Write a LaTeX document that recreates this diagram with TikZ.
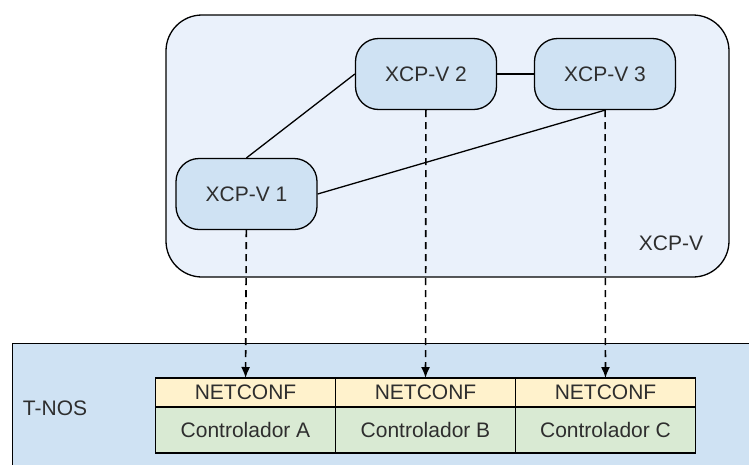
\documentclass[tikz,border=0pt]{standalone}
\usepackage{fontspec}
\setmainfont{Liberation Sans}
\usetikzlibrary{arrows.meta, positioning}
\definecolor{zonefill}{HTML}{EAF1FB}
\definecolor{nodefill}{HTML}{CFE2F3}
\definecolor{netfill}{HTML}{FFF2CC}
\definecolor{ctrlfill}{HTML}{D9EAD3}
\definecolor{inktext}{HTML}{2E2E2E}

\begin{document}
\begin{tikzpicture}[x=1pt, y=-1pt, line width=1.3pt,
    font=\fontsize{21}{25}\selectfont, text=inktext,
    vnode/.style={draw, fill=nodefill, rounded corners=23pt,
      minimum width=141pt, minimum height=71pt},
    netcell/.style={draw, fill=netfill, outer sep=0pt,
      minimum width=180pt, minimum height=29pt},
    ctrlcell/.style={draw, fill=ctrlfill, outer sep=0pt,
      minimum width=180pt, minimum height=46pt},
    link/.style={-{Latex[length=11pt,width=9pt]}, line width=1.6pt,
      dash pattern=on 7pt off 5pt}]
  \useasboundingbox (0,0) rectangle (749,464);
  \clip (0,0) rectangle (749,464);

  % zonas
  \node[draw, fill=zonefill, rounded corners=36pt,
    minimum width=563pt, minimum height=262pt] (zone) at (447.5,146) {};
  \node[anchor=east] (zonelbl) at (707,243) {XCP-V};
  \node[draw, fill=nodefill, anchor=north west,
    minimum width=760pt, minimum height=140pt] (tnos) at (12,343) {};
  \node[anchor=west] (tnoslbl) at (19,408) {T-NOS};

  % instancias XCP-V
  \node[vnode] (v1) at (246.5,194) {XCP-V 1};
  \node[vnode] (v2) at (426,74) {XCP-V 2};
  \node[vnode] (v3) at (605,74) {XCP-V 3};

  % controladores
  \node[netcell] (netA) at (245.5,392.5) {NETCONF};
  \node[netcell, right=0pt of netA] (netB) {NETCONF};
  \node[netcell, right=0pt of netB] (netC) {NETCONF};
  \node[ctrlcell, below=0pt of netA] (ctrlA) {Controlador A};
  \node[ctrlcell, below=0pt of netB] (ctrlB) {Controlador B};
  \node[ctrlcell, below=0pt of netC] (ctrlC) {Controlador C};

  % enlaces
  \draw (v1.north) -- (v2.west);
  \draw (v2) -- (v3);
  \draw (v1.east) -- (v3.south);
  \draw[link] (v1) -- (netA);
  \draw[link] (v2) -- (netB);
  \draw[link] (v3) -- (netC);
\end{tikzpicture}
\end{document}
